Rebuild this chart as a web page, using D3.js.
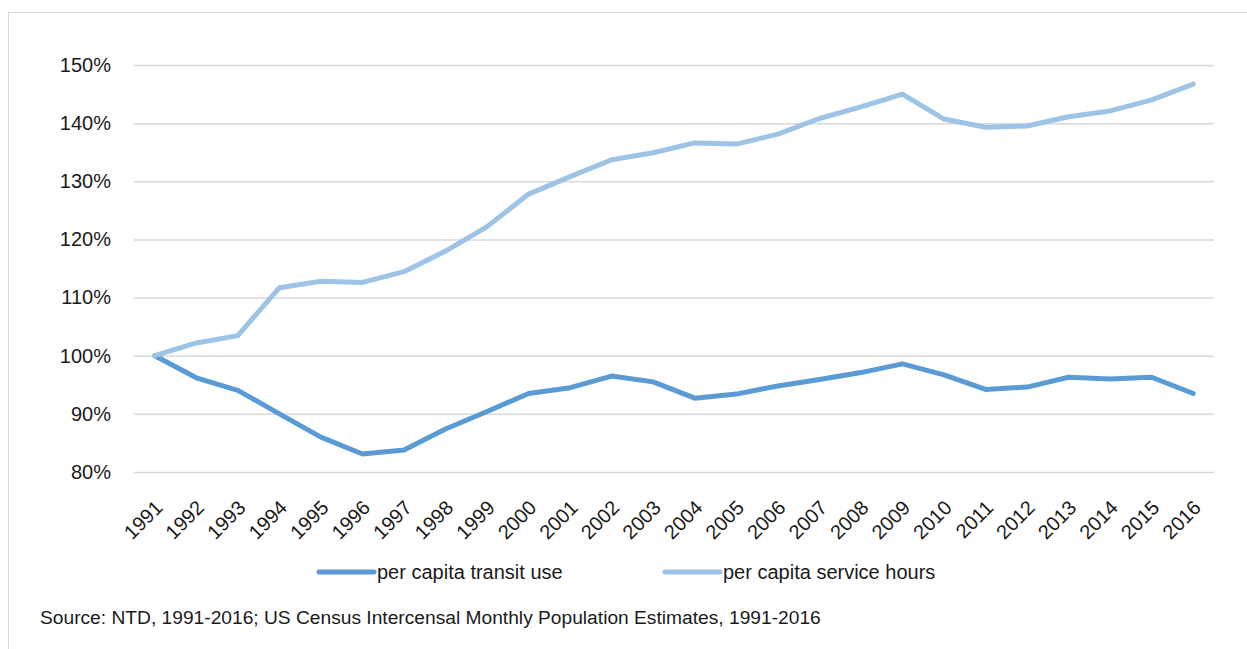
<!DOCTYPE html>
<html>
<head>
<meta charset="utf-8">
<script src="https://cdn.jsdelivr.net/npm/d3@7"></script>
<style>
  body { margin: 0; background: #fff; }
  text { font-family: "Liberation Sans", Arial, sans-serif; fill: #1a1a1a; }
</style>
</head>
<body>
<script>
var width = 1247;
var height = 649;

var years = ["1991", "1992", "1993", "1994", "1995", "1996", "1997", "1998", "1999", "2000",
  "2001", "2002", "2003", "2004", "2005", "2006", "2007", "2008", "2009", "2010",
  "2011", "2012", "2013", "2014", "2015", "2016"];

// percent of 1991 level
var transitUse = [100, 96.2, 94.05, 90.0, 86.0, 83.1, 83.8, 87.4, 90.4, 93.5,
  94.5, 96.5, 95.5, 92.7, 93.4, 94.8, 95.9, 97.1, 98.6, 96.7,
  94.2, 94.6, 96.3, 96.0, 96.3, 93.5];
var serviceHours = [100, 102.2, 103.45, 111.7, 112.8, 112.6, 114.45, 118.0, 122.2, 127.8,
  130.8, 133.7, 134.9, 136.6, 136.4, 138.1, 140.8, 142.8, 145.0, 140.7,
  139.3, 139.5, 141.1, 142.1, 144.0, 146.7];
var yTicks = [80, 90, 100, 110, 120, 130, 140, 150];
var seriesNames = ["per capita transit use", "per capita service hours"];
var seriesColors = ["#5b9bd5", "#9dc3e6"];

var plotLeft = 134, plotRight = 1214, plotTop = 65, plotBottom = 472;

var x = d3.scaleBand().domain(years).range([plotLeft, plotRight]);
var y = d3.scaleLinear().domain([80, 150]).range([plotBottom, plotTop]);

const svg = d3.select("body").append("svg")
  .attr("width", width)
  .attr("height", height);

// chart frame
svg.append("rect")
  .attr("x", 8.5).attr("y", 12.5)
  .attr("width", 1400).attr("height", 800)
  .attr("fill", "none")
  .attr("stroke", "#d9d9d9")
  .attr("stroke-width", 1);

// y axis + gridlines
var yAxis = svg.append("g")
  .attr("transform", "translate(" + plotLeft + ",0)")
  .call(d3.axisLeft(y).tickValues(yTicks).tickSize(-(plotRight - plotLeft)).tickPadding(23)
    .tickFormat(function (d) { return d + "%"; }));
yAxis.select(".domain").remove();
yAxis.selectAll("line").attr("stroke", "#d9d9d9").attr("stroke-width", 1.5);
yAxis.selectAll("text").style("font-size", "20px").attr("fill", "#1a1a1a");

// x axis, rotated labels
var xAxis = svg.append("g")
  .attr("transform", "translate(0," + plotBottom + ")")
  .call(d3.axisBottom(x).tickSize(0));
xAxis.select(".domain").remove();
xAxis.selectAll("text")
  .style("font-size", "20px")
  .attr("fill", "#1a1a1a")
  .attr("text-anchor", "end")
  .attr("x", 0).attr("y", 0).attr("dy", null)
  .attr("transform", "translate(9,37) rotate(-45)");

var line = d3.line()
  .x(function (d, i) { return x(years[i]) + x.bandwidth() / 2; })
  .y(function (d) { return y(d); });

// draw dark first so the light one sits on top at the 1991 start
[transitUse, serviceHours].forEach(function (vals, i) {
  svg.append("path")
    .datum(vals)
    .attr("d", line)
    .attr("fill", "none")
    .attr("stroke", seriesColors[i])
    .attr("stroke-width", 5)
    .attr("stroke-linejoin", "round")
    .attr("stroke-linecap", "round");
});

// legend
var legendX = [319, 665];
var legend = svg.append("g").selectAll("g")
  .data(seriesNames)
  .enter().append("g")
  .attr("transform", function (d, i) { return "translate(" + legendX[i] + ",572)"; });
legend.append("line")
  .attr("x1", 0).attr("x2", 55)
  .attr("y1", 0).attr("y2", 0)
  .attr("stroke", function (d, i) { return seriesColors[i]; })
  .attr("stroke-width", 5)
  .attr("stroke-linecap", "round");
legend.append("text")
  .attr("x", 58).attr("y", 0).attr("dy", "0.35em")
  .style("font-size", "20px")
  .text(function (d) { return d; });

// source note
svg.append("text")
  .attr("x", 40).attr("y", 624)
  .style("font-size", "19.2px")
  .text("Source: NTD, 1991-2016; US Census Intercensal Monthly Population Estimates, 1991-2016");
</script>
</body>
</html>
